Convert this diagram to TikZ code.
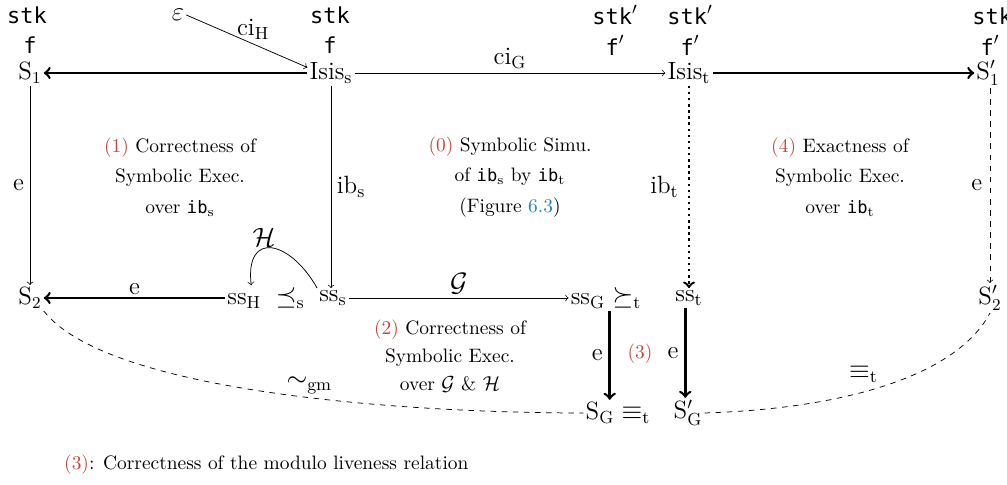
\documentclass[tikz,border=0pt]{standalone}
\usepackage{fontspec}
\setmonofont{DejaVu Sans Mono}[Scale=0.88]
\usetikzlibrary{calc}
\definecolor{myred}{RGB}{192,72,55}
\definecolor{myblue}{RGB}{35,130,200}
\newcommand{\rn}[1]{\textcolor{myred}{(#1)}}
\newcommand{\rmm}[1]{\mathrm{#1}}
\begin{document}
\begin{tikzpicture}[x=0.5405pt,y=-0.5405pt,
  every node/.style={inner sep=1pt,font=\fontsize{13.5}{16}\selectfont},
  txt/.style={font=\fontsize{10.5}{12.5}\selectfont},
  thinarr/.style={->},
  thickarr/.style={->,line width=1.4pt},
  dotarr/.style={->,line width=1.3pt,dotted},
  dasharr/.style={->,dashed},
  dashcurve/.style={dashed},
  blocktxt/.style={align=center,txt}]
\useasboundingbox (0,0) rectangle (1007,485);

% top labels
\node (stkA) at (27,15) {$\texttt{stk}$};
\node (fA) at (30,45) {$\texttt{f}$};
\node (stkB) at (330,15) {$\texttt{stk}$};
\node (fB) at (330,45) {$\texttt{f}$};
\node (stkC) at (615,15) {$\texttt{stk}'$};
\node (fC) at (615,45) {$\texttt{f}'$};
\node (stkD) at (690,15) {$\texttt{stk}'$};
\node (fD) at (690,45) {$\texttt{f}'$};
\node (stkE) at (995,15) {$\texttt{stk}'$};
\node (fE) at (990,45) {$\texttt{f}'$};

% top row
\node (S1) at (30,73) {$\rmm{S}_1$};
\node (Isiss) at (331,73) {$\rmm{Isis}_\rmm{s}$};
\node (Isist) at (689,73) {$\rmm{Isis}_\rmm{t}$};
\node (S1p) at (988,73) {$\rmm{S}'_1$};
\node (eps) at (178,15) {$\varepsilon$};

% bottom row
\node (S2) at (30,298) {$\rmm{S}_2$};
\node (ssH) at (266,298) {$\rmm{ss}_\rmm{H}\;\preceq_\rmm{s}$};
\node (sss) at (333,298) {$\rmm{ss}_\rmm{s}$};
\node (ssG) at (606,298) {$\rmm{ss}_\rmm{G}\succeq_\rmm{t}$};
\node (sst) at (689,298) {$\rmm{ss}_\rmm{t}$};
\node (S2p) at (990,298) {$\rmm{S}'_2$};

\node (SG) at (618,413) {$\rmm{S}_\rmm{G}\equiv_\rmm{t}$};
\node (SGp) at (688,413) {$\rmm{S}'_\rmm{G}$};

% arrows top
\draw[thickarr] (Isiss) -- (S1);
\draw[thinarr] (Isiss) -- node[above,yshift=1pt] {$\rmm{ci}_\rmm{G}$} (Isist);
\draw[thickarr] (Isist) -- (S1p);
\draw[thinarr] (eps.east) -- node[pos=0.55,anchor=south east,xshift=10pt,yshift=1pt] {$\rmm{ci}_\rmm{H}$} ([yshift=3pt]Isiss.west);

% verticals
\draw[thinarr] (S1) -- node[left,xshift=-2pt] {$\rmm{e}$} (S2);
\draw[thinarr] (Isiss) -- node[right,xshift=2pt] {$\rmm{ib}_\rmm{s}$} (sss.north -| Isiss);
\draw[dotarr] (Isist) -- node[left,xshift=-4pt] {$\rmm{ib}_\rmm{t}$} (sst);
\draw[dasharr] (S1p.south -| S2p) -- node[left,xshift=-3pt] {$\rmm{e}$} (S2p);

% bottom row arrows
\draw[thickarr] (ssH) -- node[above] {$\rmm{e}$} (S2);
\draw[thinarr] (sss) -- node[above,yshift=1pt] {$\mathcal{G}$} (ssG);
\draw[thinarr] (sss.north west) .. controls (290,240) and (245,230) .. node[above,pos=0.6] {$\mathcal{H}$} ([xshift=-8pt]ssH.north);
\coordinate (cG) at ([xshift=2pt]ssG.south);
\draw[thickarr] (cG) -- node[left,xshift=-2pt] {$\rmm{e}$} (cG |- SG.north);
\coordinate (ct) at ([xshift=-2pt]sst.south);
\draw[thickarr] (ct) -- node[left,xshift=-2pt] {$\rmm{e}$} (ct |- SGp.north);
\node[txt] (three) at (640,354) {\rn{3}};

% dashed curves
\draw[dashcurve] (S2.south east) .. controls (110,395) and (420,413) .. node[pos=0.55,above,yshift=1pt] {$\sim_\rmm{gm}$} (SG.west);
\draw[dashcurve] (SGp.east) .. controls (860,408) and (960,370) .. node[pos=0.4,above,yshift=4pt] {$\equiv_\rmm{t}$} (S2p.south);

% text blocks
\node[blocktxt] (blk1) at (180,177) {\rn{1} Correctness of\\[4pt] Symbolic Exec.\\[4pt] over $\texttt{ib}_\rmm{s}$};
\node[blocktxt] (blk0) at (510,177) {\rn{0} Symbolic Simu.\\[4pt] of $\texttt{ib}_\rmm{s}$ by $\texttt{ib}_\rmm{t}$\\[4pt] (Figure \textcolor{myblue}{6.3})};
\node[blocktxt] (blk4) at (840,177) {\rn{4} Exactness of\\[4pt] Symbolic Exec.\\[4pt] over $\texttt{ib}_\rmm{t}$};
\node[blocktxt] (blk2) at (450,356) {\rn{2} Correctness of\\[2.5pt] Symbolic Exec.\\[2.5pt] over $\mathcal{G}$ \& $\mathcal{H}$};

\node[anchor=west,txt] (foot) at (62,465) {\rn{3}: Correctness of the modulo liveness relation};
\end{tikzpicture}
\end{document}
